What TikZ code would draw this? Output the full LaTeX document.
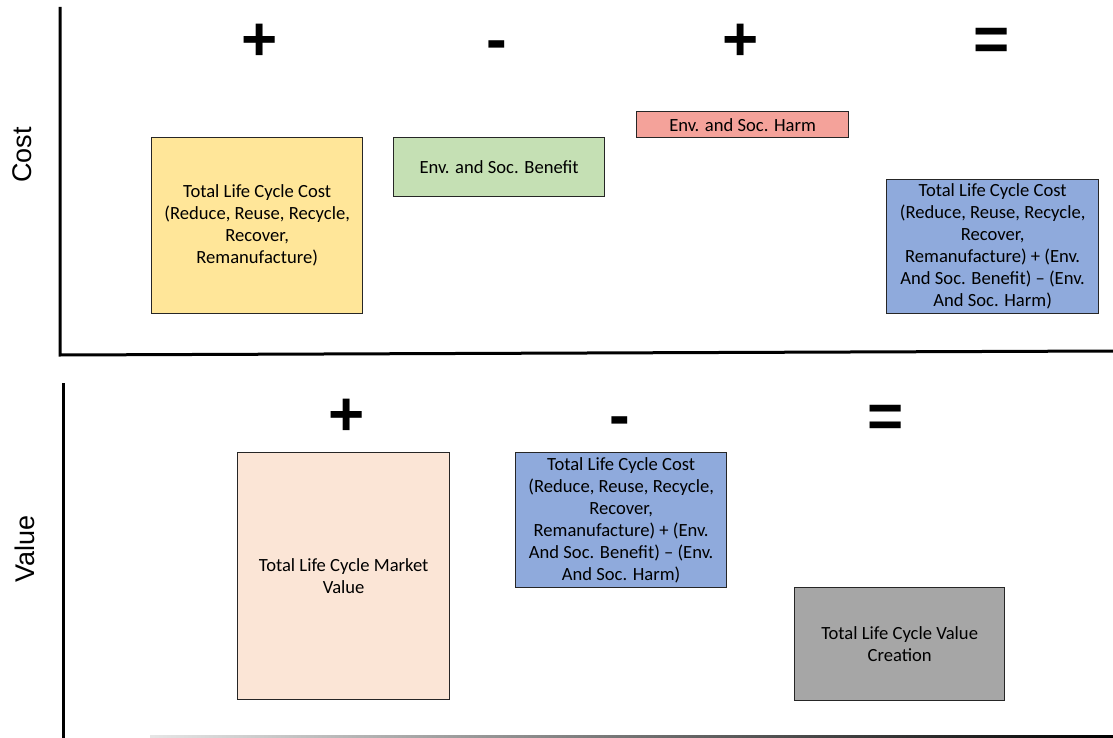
\documentclass[tikz,border=0pt]{standalone}
\usepackage{fontspec}
\setmainfont{Carlito}
\newfontfamily\axisfont{Liberation Sans}

\definecolor{costyellow}{HTML}{FFE699}
\definecolor{benefitgreen}{HTML}{C5E0B4}
\definecolor{harmred}{HTML}{F4A29A}
\definecolor{totalblue}{HTML}{8FAADC}
\definecolor{marketpeach}{HTML}{FBE5D6}
\definecolor{valuegray}{HTML}{A6A6A6}

\tikzset{
  box/.style={draw=black!85, line width=1.3pt, anchor=north west, inner sep=0pt,
    align=center, text=black, font=\fontsize{18.6}{22}\selectfont},
  sign/.style={anchor=base, inner sep=0pt, font=\axisfont\bfseries\fontsize{62}{62}\selectfont},
  axislabel/.style={rotate=90, inner sep=0pt, font=\axisfont\fontsize{27}{27}\selectfont},
  axisline/.style={line width=3pt, black}
}

\begin{document}
\begin{tikzpicture}[x=1pt,y=-1pt]
\useasboundingbox (0,0) rectangle (1113,738);

% ---------- cost panel ----------
\draw[axisline] (60,7) -- (60,355) -- (1113,351);
\node[axislabel] (costlabel) at (22,155) {Cost};

\node[box, fill=costyellow, minimum width=211pt, minimum height=176pt] (lcc) at (151,137)
  {Total Life Cycle Cost\\(Reduce, Reuse, Recycle,\\Recover,\\Remanufacture)};
\node[box, fill=benefitgreen, minimum width=211pt, minimum height=59pt] (benefit) at (393,137)
  {Env. and Soc. Benefit};
\node[box, fill=harmred, minimum width=212pt, minimum height=26pt] (harm) at (636,111)
  {Env. and Soc. Harm};
\node[box, fill=totalblue, minimum width=212pt, minimum height=134pt] (total) at (886,179)
  {Total Life Cycle Cost\\(Reduce, Reuse, Recycle,\\Recover,\\Remanufacture) + (Env.\\And Soc. Benefit) – (Env.\\And Soc. Harm)};

\node[sign] (plusA) at (260,61) {+};
\node[sign] (minusA) at (497,61) {-};
\node[sign] (plusB) at (741,61) {+};
\node[sign] (equalsA) at (992,61) {=};

% ---------- value panel ----------
\draw[axisline] (63,383) -- (63,738);
\shade[left color=black!10, right color=black] (150,735.5) rectangle (1113,738.5);
\node[axislabel] (valuelabel) at (25,549) {Value};

\node[box, fill=marketpeach, minimum width=212pt, minimum height=247pt] (market) at (237,452)
  {Total Life Cycle Market\\Value};
\node[box, fill=totalblue, minimum width=211pt, minimum height=135pt] (totalB) at (515,452)
  {Total Life Cycle Cost\\(Reduce, Reuse, Recycle,\\Recover,\\Remanufacture) + (Env.\\And Soc. Benefit) – (Env.\\And Soc. Harm)};
\node[box, fill=valuegray, minimum width=210pt, minimum height=113pt] (creation) at (794,587)
  {Total Life Cycle Value\\Creation};

\node[sign] (plusC) at (347,435) {+};
\node[sign] (minusB) at (620,436) {-};
\node[sign] (equalsB) at (886,437) {=};
\end{tikzpicture}
\end{document}
